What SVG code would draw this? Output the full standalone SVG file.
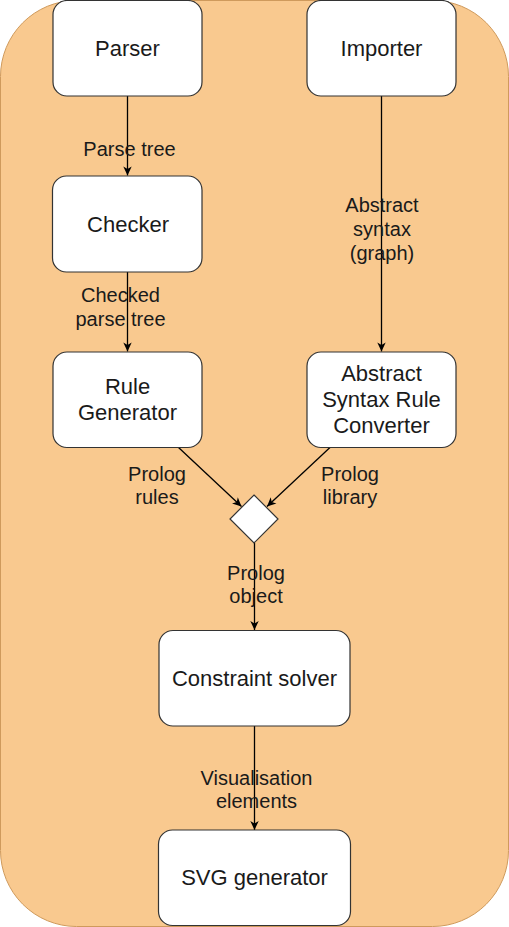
<svg xmlns="http://www.w3.org/2000/svg" width="509" height="927" viewBox="0 0 509 927">
<style>
.node rect, .node polygon { fill: #ffffff; stroke: #333333; stroke-width: 1.2; }
.nt { font-family: "Liberation Sans", Arial, sans-serif; font-size: 22px; fill: #1a1a1a; text-anchor: middle; }
.lt { font-family: "Liberation Sans", Arial, sans-serif; font-size: 20px; fill: #1a1a1a; text-anchor: middle; }
.edge { fill: none; stroke: #000000; stroke-width: 1.3; marker-end: url(#arr); }
</style>
<defs>
<marker id="arr" viewBox="-10 -5 11 10" refX="0" refY="0" markerWidth="11" markerHeight="10" markerUnits="userSpaceOnUse" orient="auto">
<path d="M0,0 L-9,-4.2 L-6.5,0 L-9,4.2 Z" fill="#000000"/>
</marker>
</defs>
<rect id="background" x="0.5" y="0.5" width="508" height="926" rx="76" ry="76" fill="#f9c98f" stroke="#cf9a5c" stroke-width="1"/>
<g id="connectors">
<line class="edge" x1="127.5" y1="96" x2="127.5" y2="175.5"/>
<line class="edge" x1="127.5" y1="272" x2="127.5" y2="351.5"/>
<line class="edge" x1="381.5" y1="96" x2="381.5" y2="351.5"/>
<line class="edge" x1="178" y1="447" x2="241.5" y2="506.5"/>
<line class="edge" x1="330.5" y1="447" x2="267" y2="506.5"/>
<line class="edge" x1="254.5" y1="543" x2="254.5" y2="630"/>
<line class="edge" x1="254.5" y1="726" x2="254.5" y2="830"/>
<text class="lt" x="129.5" y="156">Parse tree</text>
<text class="lt" x="120.5" y="302">Checked</text>
<text class="lt" x="120.5" y="326">parse tree</text>
<text class="lt" x="382" y="212">Abstract</text>
<text class="lt" x="382" y="236">syntax</text>
<text class="lt" x="382" y="260">(graph)</text>
<text class="lt" x="157" y="481">Prolog</text>
<text class="lt" x="157" y="504">rules</text>
<text class="lt" x="350" y="481">Prolog</text>
<text class="lt" x="350" y="504">library</text>
<text class="lt" x="256" y="580">Prolog</text>
<text class="lt" x="256" y="603">object</text>
<text class="lt" x="256.5" y="785">Visualisation</text>
<text class="lt" x="256.5" y="808">elements</text>
</g>
<g id="parser" class="node">
<rect x="53" y="0.5" width="149" height="95.5" rx="14" ry="14"/>
<text class="nt" x="127.5" y="56">Parser</text>
</g>
<g id="importer" class="node">
<rect x="307" y="0.5" width="149" height="95.5" rx="14" ry="14"/>
<text class="nt" x="381.5" y="56">Importer</text>
</g>
<g id="checker" class="node">
<rect x="52.5" y="176" width="149.5" height="96" rx="14" ry="14"/>
<text class="nt" x="128" y="232">Checker</text>
</g>
<g id="rule-generator" class="node">
<rect x="53" y="352" width="149" height="95.5" rx="14" ry="14"/>
<text class="nt" x="127.5" y="394">Rule</text>
<text class="nt" x="127.5" y="420">Generator</text>
</g>
<g id="asrc" class="node">
<rect x="307" y="352" width="149" height="95.5" rx="14" ry="14"/>
<text class="nt" x="381.5" y="381">Abstract</text>
<text class="nt" x="381.5" y="407">Syntax Rule</text>
<text class="nt" x="381.5" y="433">Converter</text>
</g>
<g id="merge" class="node">
<polygon points="254,495 278,519 254,543 230,519"/>
</g>
<g id="constraint-solver" class="node">
<rect x="159" y="630.5" width="191" height="95.5" rx="14" ry="14"/>
<text class="nt" x="254.5" y="686">Constraint solver</text>
</g>
<g id="svg-generator" class="node">
<rect x="158.5" y="830" width="192" height="95.5" rx="14" ry="14"/>
<text class="nt" x="254.5" y="885">SVG generator</text>
</g>
</svg>
